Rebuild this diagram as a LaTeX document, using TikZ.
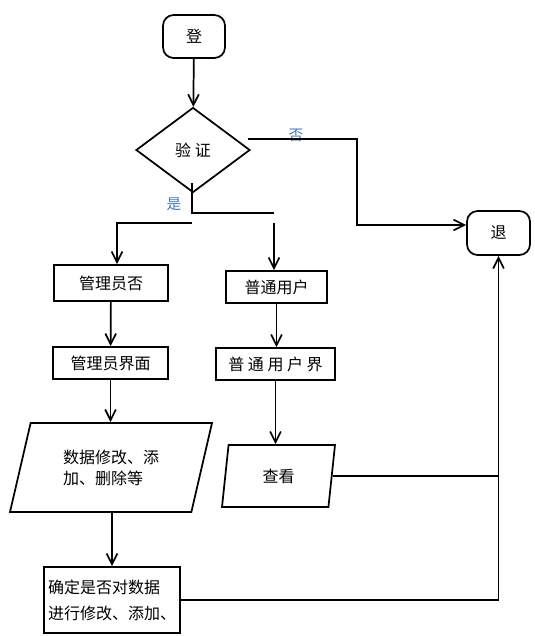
\documentclass[tikz,border=0pt]{standalone}
\usepackage{fontspec}
\usepackage{xcolor}
\usepackage{tikz}
\usetikzlibrary{arrows.meta}
\usetikzlibrary{shapes}
\usetikzlibrary{shapes.geometric}
\usetikzlibrary{positioning}
\newfontfamily\cjk{Noto Sans CJK SC}
\definecolor{lblblue}{RGB}{70,120,190}
\tikzset{
  flow/.style={line width=1.3pt, draw=black},
  arr/.style={flow, -{Straight Barb[length=8pt,width=8pt]}},
  box/.style={rectangle, flow, inner sep=0pt, font=\cjk\fontsize{12}{15}\selectfont},
  term/.style={box, rounded corners=8pt},
  iobox/.style={trapezium, trapezium stretches body, flow, inner sep=0pt, font=\cjk\fontsize{12}{15.75}\selectfont},
  lbl/.style={inner sep=0pt, text=lblblue, font=\cjk\fontsize{11}{11}\selectfont}
}
\begin{document}
\begin{tikzpicture}[x=0.75pt, y=-0.75pt]
\useasboundingbox (0,0) rectangle (535,636);
\node [term, minimum width=46.5pt, minimum height=32.25pt] (start) at (194,36.5) {登};
\node [diamond, flow, inner sep=0pt, font=\cjk\fontsize{12}{15}\selectfont, minimum width=85.5pt, minimum height=63.75pt] (chk) at (193,150) {验 证};
\node [term, minimum width=47.25pt, minimum height=33pt] (quit) at (498.5,233) {退};
\node [box, minimum width=85.5pt, minimum height=27pt] (adm) at (111,283) {管理员否};
\node [box, minimum width=75.75pt, minimum height=24pt] (usr) at (276.5,287) {普通用户};
\node [box, minimum width=86.25pt, minimum height=24pt] (admui) at (110.5,363) {管理员界面};
\node [box, minimum width=89.25pt, minimum height=24pt] (usrui) at (275.5,364) {普 通 用 户 界};
\node [iobox, trapezium left angle=60, trapezium right angle=120, minimum width=151.5pt, minimum height=66.75pt, align=left] (edit) at (111,467.5) {数据修改、添\\加、删除等};
\node [iobox, trapezium left angle=66, trapezium right angle=114, minimum width=84.75pt, minimum height=46.5pt] (look) at (278.5,476) {查看};
\node [box, minimum width=102pt, minimum height=49.5pt, align=left, font=\cjk\fontsize{12}{19.5}\selectfont] (cfm) at (112,600) {确定是否对数据\\进行修改、添加、};
\node [lbl] (no) at (296,135) {否};
\node [lbl] (yes) at (174,204) {是};
\coordinate (nob) at (248,139);
\coordinate (noc) at (357,225);
\coordinate (yesa) at (192,183);
\coordinate (yesb) at (274,213);
\coordinate (spl) at (192,223);
\coordinate (spr) at (274,223);
\draw [arr] (start) -- (chk);
\draw [arr] (nob) -| (noc) -- ([yshift=6pt]quit.west);
\draw [flow] (yesa) |- (yesb);
\draw [arr] (spl) -| ([xshift=4.5pt]adm.north);
\draw [arr] (spr) -- (spr |- usr.north);
\draw [arr] (adm) -- (admui);
\draw [arr] (usr.south) -- (usr.south |- usrui.north);
\draw [arr] (admui.south) -- (admui.south |- edit.north);
\draw [arr] (edit.south -| cfm.north) -- (cfm.north);
\draw [arr] (usrui.south) -- (usrui.south |- look.north);
\draw [flow] (look.east) -- (look.east -| quit.south);
\draw [arr] (cfm.east) -| (quit.south);
\end{tikzpicture}
\end{document}
